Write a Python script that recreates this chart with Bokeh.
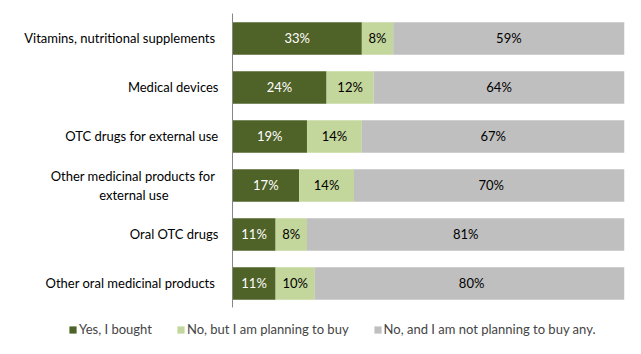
from bokeh.plotting import figure
from bokeh.models import Range1d, Legend, LegendItem, ColumnDataSource, FixedTicker
from bokeh.core.properties import value
from bokeh.embed import file_html
from bokeh.resources import INLINE

categories = ["Vitamins, nutritional  supplements", "Medical devices", "OTC drugs for external use",
              "Other medicinal products  for\nexternal use" + "\u00a0" * 15, "Oral OTC drugs",
              "Other oral medicinal  products"]
series = ["Yes, I bought", "No, but I am planning to buy", "No, and I am not planning to buy any."]
yes = [33, 24, 19, 17, 11, 11]
plan = [8, 12, 14, 14, 8, 10]
no = [59, 64, 67, 70, 81, 80]
colors = ["#4F6228", "#C3D69B", "#BFBFBF"]
text_colors = ["#FFFFFF", "#000000", "#000000"]

FONT = "Lato"

n = len(categories)
ypos = [n - 1 - i for i in range(n)]  # first category on top
src = ColumnDataSource(dict(y=ypos, yes=yes, plan=plan, no=no))

p = figure(width=641, height=354, x_range=Range1d(-59.18, 100), y_range=Range1d(-1.449, 5.7755),
           output_backend="svg", toolbar_location=None,
           min_border_left=0, min_border_right=17, min_border_top=0, min_border_bottom=0)
p.outline_line_color = None
p.xaxis.visible = False
p.xgrid.visible = False
p.ygrid.visible = False

renderers = p.hbar_stack(["yes", "plan", "no"], y="y", height=0.66, color=colors, source=src, line_color=None)

# value labels at segment centres
cols = [yes, plan, no]
for i, vals in enumerate(cols):
    starts = [sum(c[k] for c in cols[:i]) for k in range(n)]
    centers = [s + v / 2 for s, v in zip(starts, vals)]
    lsrc = ColumnDataSource(dict(x=centers, y=ypos, t=[f"{v}%" for v in vals]))
    p.text(x="x", y="y", text="t", source=lsrc, text_align="center", text_baseline="middle",
           text_color=text_colors[i], text_font=value(FONT), text_font_size="13px")

yax = p.yaxis[0]
yax.fixed_location = 0
yax.bounds = (-0.5, n - 0.5)
yax.ticker = FixedTicker(ticks=ypos)
yax.major_label_overrides = {y: c for y, c in zip(ypos, categories)}
yax.axis_line_color = "#868686"
yax.major_tick_line_color = None
yax.minor_tick_line_color = None
yax.major_tick_out = 0
yax.major_tick_in = 0
yax.major_label_text_font = FONT
yax.major_label_text_font_size = "13px"
yax.major_label_text_color = "#000000"
yax.major_label_standoff = 14

legend = Legend(items=[LegendItem(label=s, renderers=[r]) for s, r in zip(series, renderers)],
                orientation="horizontal", location=(68, 17),
                glyph_width=9, glyph_height=9, label_standoff=2, spacing=24,
                label_text_font=FONT, label_text_font_size="13px",
                border_line_color=None, background_fill_alpha=0, padding=0, margin=0,
                label_height=13)
p.add_layout(legend, "center")

open("out.html", "w").write(file_html(p, INLINE))
